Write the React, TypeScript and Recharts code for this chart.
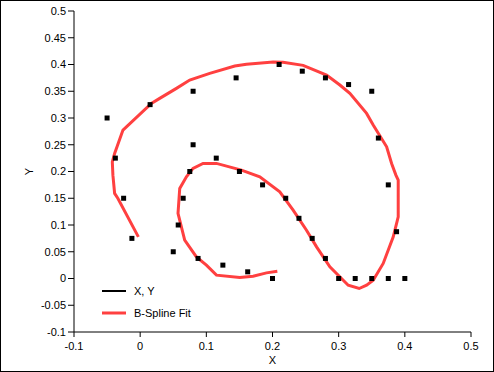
import React from 'react';
import { ScatterChart, Scatter, XAxis, YAxis, Legend } from 'recharts';

const FONT = '"Liberation Sans", Arial, sans-serif';

const pointX = [-0.05, -0.0375, -0.025, -0.0125, 0.015, 0.08, 0.145, 0.21, 0.245, 0.28, 0.315, 0.35, 0.36, 0.375, 0.3875, 0.4, 0.375, 0.35, 0.325, 0.3, 0.28, 0.26, 0.24, 0.22, 0.185, 0.15, 0.115, 0.08, 0.075, 0.065, 0.0575, 0.05, 0.0875, 0.125, 0.1625, 0.2];
const pointY = [0.3, 0.225, 0.15, 0.075, 0.325, 0.35, 0.375, 0.4, 0.3875, 0.375, 0.3625, 0.35, 0.2625, 0.175, 0.0875, 0, 0, 0, 0, 0, 0.0375, 0.075, 0.1125, 0.15, 0.175, 0.2, 0.225, 0.25, 0.2, 0.15, 0.1, 0.05, 0.0375, 0.025, 0.0125, 0];

const fitX = [-0.0027, -0.0336, -0.0386, -0.0412, -0.0421, -0.0386, -0.026, 0.0169, 0.0295, 0.0548, 0.0749, 0.1051, 0.143, 0.1607, 0.2009, 0.216, 0.2463, 0.2817, 0.3018, 0.3169, 0.3422, 0.3522, 0.3725, 0.38, 0.3865, 0.39, 0.39, 0.3825, 0.3673, 0.3522, 0.3422, 0.331, 0.3144, 0.2867, 0.2666, 0.2514, 0.2312, 0.211, 0.1808, 0.1531, 0.1153, 0.095, 0.0799, 0.0699, 0.0598, 0.0572, 0.0673, 0.085, 0.1001, 0.1153, 0.1505, 0.1707, 0.1909, 0.2073];
const fitY = [0.0778, 0.1496, 0.159, 0.1932, 0.2181, 0.2338, 0.2774, 0.3273, 0.3367, 0.3554, 0.3709, 0.3835, 0.3971, 0.4003, 0.4046, 0.404, 0.3984, 0.3803, 0.3616, 0.346, 0.3086, 0.2868, 0.2462, 0.2151, 0.1932, 0.1839, 0.1152, 0.0778, 0.0281, -0.0032, -0.0125, -0.0187, -0.0125, 0.0217, 0.0591, 0.0903, 0.1278, 0.162, 0.19, 0.2026, 0.2151, 0.2151, 0.2058, 0.19, 0.1683, 0.1216, 0.0716, 0.0404, 0.0249, 0.0062, 0.0019, 0.0043, 0.0105, 0.0137];

const xTicks = [-0.1, 0, 0.1, 0.2, 0.3, 0.4, 0.5];
const yTicks = [-0.1, -0.05, 0, 0.05, 0.1, 0.15, 0.2, 0.25, 0.3, 0.35, 0.4, 0.45, 0.5];
const seriesNames = ['X, Y', 'B-Spline Fit'];
const seriesColors = ['#000000', '#ff4040'];
const seriesWidths = [2, 3];

const points = pointX.map((x, i) => ({ x, y: pointY[i] }));
const fit = fitX.map((x, i) => ({ x, y: fitY[i] }));

const Square = (p: any) => (
  <rect x={p.cx - 2.5} y={p.cy - 2.5} width={5} height={5} fill="#000" />
);

const LegendContent = () => (
  <div style={{ fontFamily: FONT, fontSize: 11, color: '#000' }}>
    {seriesNames.map((n, i) => (
      <div key={n} style={{ display: 'flex', alignItems: 'center', height: 22 }}>
        <svg width={24} height={4} style={{ display: 'block' }}>
          <line x1={0} x2={24} y1={2} y2={2} stroke={seriesColors[i]} strokeWidth={seriesWidths[i]} />
        </svg>
        <span style={{ marginLeft: 8, whiteSpace: 'nowrap' }}>{n}</span>
      </div>
    ))}
  </div>
);

const YLabel = (props: any) => {
  const vb = props.viewBox;
  const cx = 29;
  const cy = vb.y + vb.height / 2;
  return (
    <text x={cx} y={cy} transform={`rotate(-90 ${cx} ${cy})`} textAnchor="middle" dominantBaseline="central" fontFamily={FONT} fontSize={11} fill="#000">Y</text>
  );
};

export default function App() {
  const tickStyle = { fill: '#000', fontSize: 11, fontFamily: FONT };
  return (
    <div style={{ position: 'absolute', left: 0, top: 0, width: 494, height: 372, background: '#fff' }}>
      <ScatterChart width={494} height={372} margin={{ top: 11, right: 23, bottom: 0, left: 0 }} style={{ fontFamily: FONT }}>
        <XAxis
          type="number"
          dataKey="x"
          domain={[-0.1, 0.5]}
          ticks={xTicks}
          allowDataOverflow
          height={40}
          tickSize={5}
          tickMargin={5}
          tick={tickStyle}
          axisLine={{ stroke: '#000' }}
          tickLine={{ stroke: '#000' }}
          label={{ value: 'X', position: 'insideBottom', offset: 8, fill: '#000', fontSize: 11, fontFamily: FONT }}
        />
        <XAxis xAxisId="top" orientation="top" type="number" domain={[-0.1, 0.5]} height={0} tick={false} tickLine={false} axisLine={{ stroke: '#555' }} />
        <YAxis
          type="number"
          dataKey="y"
          domain={[-0.1, 0.5]}
          ticks={yTicks}
          allowDataOverflow
          width={74}
          tickSize={6}
          tickMargin={2}
          tick={tickStyle}
          axisLine={{ stroke: '#000' }}
          tickLine={{ stroke: '#000' }}
          label={<YLabel />}
        />
        <YAxis yAxisId="right" orientation="right" type="number" domain={[-0.1, 0.5]} width={0} tick={false} tickLine={false} axisLine={{ stroke: '#000' }} />
        <Legend content={<LegendContent />} layout="vertical" align="center" verticalAlign="middle" wrapperStyle={{ left: 102, top: 280, width: 'auto' }} />
        <Scatter
          name={seriesNames[1]}
          data={fit}
          line={{ stroke: seriesColors[1], strokeWidth: seriesWidths[1] }}
          lineJointType="linear"
          shape={() => <g />}
          isAnimationActive={false}
        />
        <Scatter name={seriesNames[0]} data={points} shape={Square} isAnimationActive={false} />
      </ScatterChart>
      <div style={{ position: 'absolute', left: 0, top: 0, width: 494, height: 372, boxSizing: 'border-box', border: '1px solid #000', pointerEvents: 'none' }} />
    </div>
  );
}
